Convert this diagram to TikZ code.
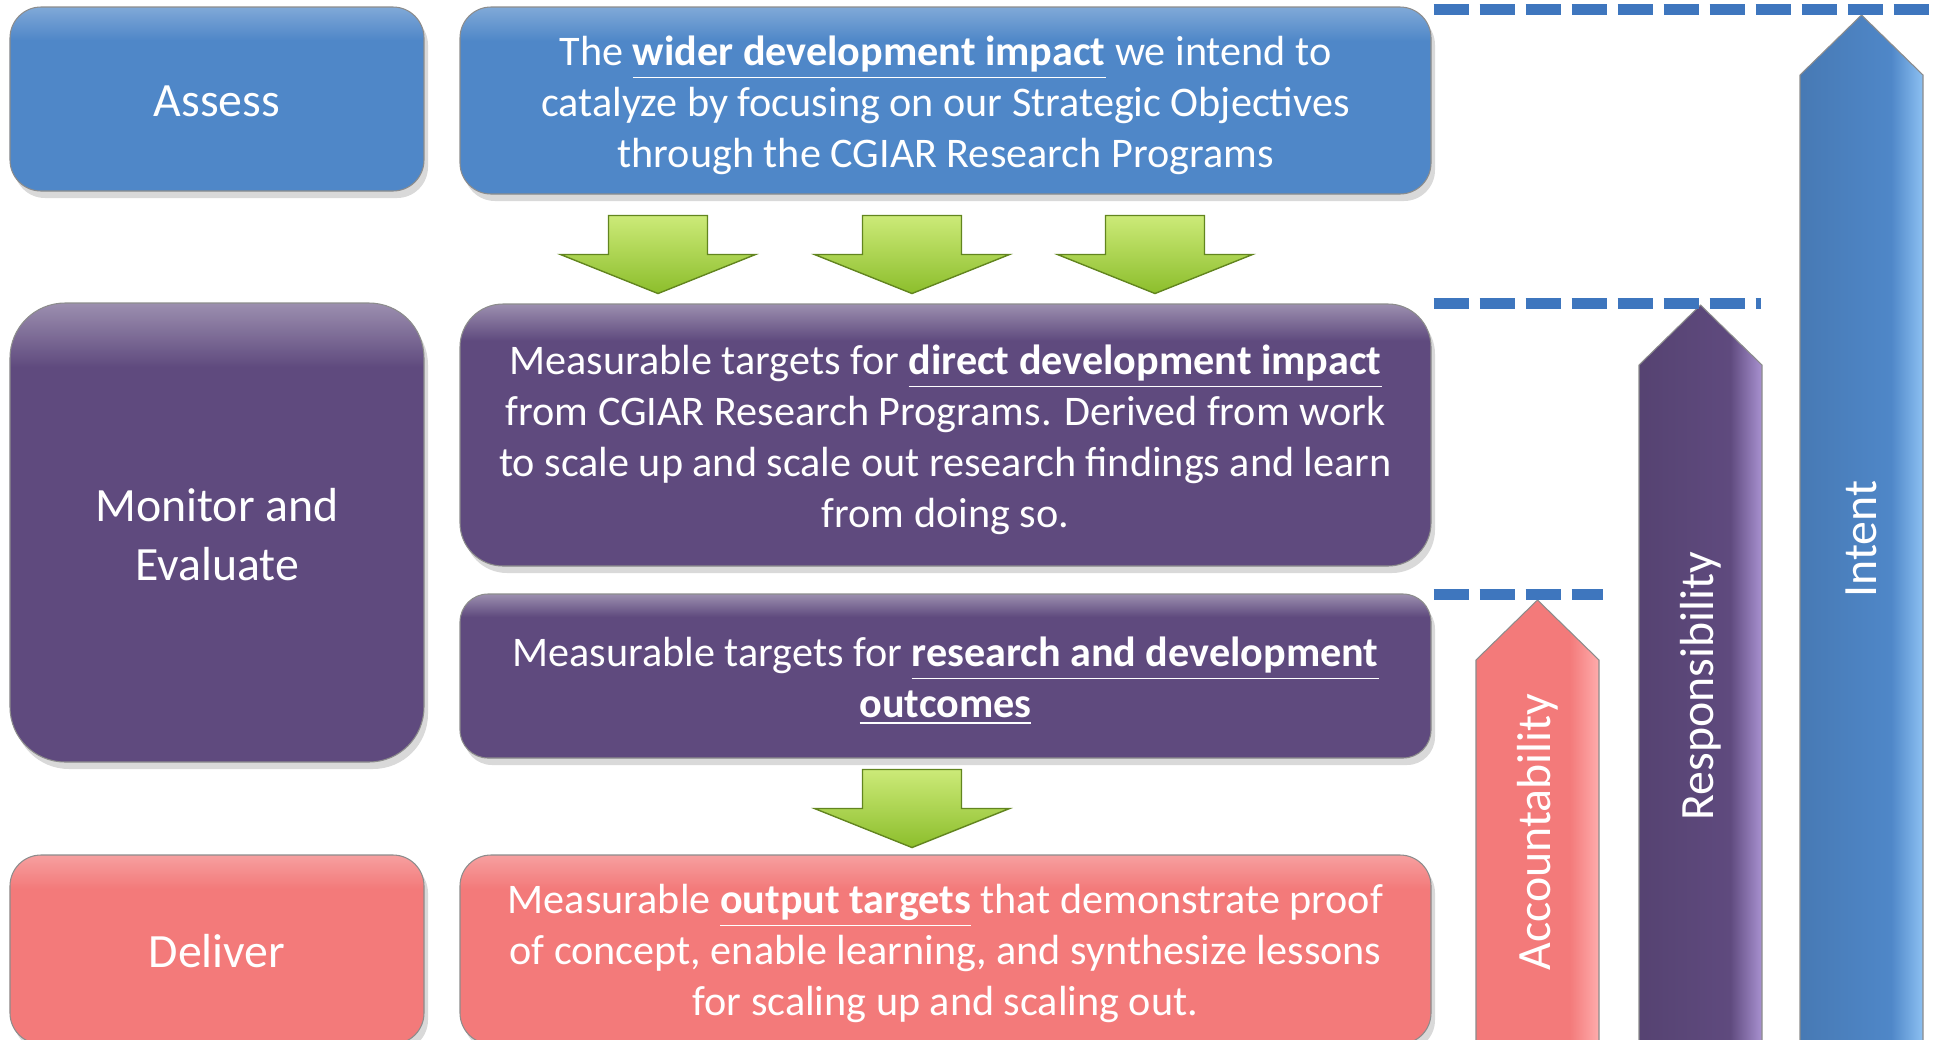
\documentclass[tikz,border=0pt]{standalone}
\usepackage{fontspec}
\setmainfont{Carlito}
\usetikzlibrary{calc, shadows}
\definecolor{assessblue}{RGB}{79,135,200}
\definecolor{monitorpurple}{RGB}{95,74,126}
\definecolor{deliverpink}{RGB}{243,122,122}
\definecolor{leaflight}{RGB}{204,234,120}
\definecolor{leafdark}{RGB}{140,190,44}
\definecolor{guideblue}{RGB}{62,118,190}
\definecolor{intentlight}{RGB}{140,192,242}
\definecolor{resplight}{RGB}{168,145,208}
\definecolor{acclight}{RGB}{255,172,172}

% bevel-like fills: mostly flat, lighter near the top / right edge
% (the path is mapped onto 25bp--75bp of the shading)
\pgfdeclareverticalshading{bluepanel}{100bp}{color(0bp)=(assessblue);
  color(66bp)=(assessblue); color(75bp)=(assessblue!72!white);
  color(100bp)=(assessblue!72!white)}
\pgfdeclareverticalshading{purplepanel}{100bp}{color(0bp)=(monitorpurple);
  color(68bp)=(monitorpurple); color(75bp)=(monitorpurple!62!white);
  color(100bp)=(monitorpurple!62!white)}
\pgfdeclareverticalshading{pinkpanel}{100bp}{color(0bp)=(deliverpink);
  color(66bp)=(deliverpink); color(75bp)=(deliverpink!72!white);
  color(100bp)=(deliverpink!72!white)}
\pgfdeclarehorizontalshading{intentshade}{100bp}{color(0bp)=(assessblue!90!black);
  color(25bp)=(assessblue!90!black); color(62bp)=(assessblue);
  color(75bp)=(intentlight); color(100bp)=(intentlight)}
\pgfdeclarehorizontalshading{respshade}{100bp}{color(0bp)=(monitorpurple!90!black);
  color(25bp)=(monitorpurple!90!black); color(62bp)=(monitorpurple);
  color(75bp)=(resplight); color(100bp)=(resplight)}
\pgfdeclarehorizontalshading{accshade}{100bp}{color(0bp)=(deliverpink);
  color(63bp)=(deliverpink); color(75bp)=(acclight); color(100bp)=(acclight)}

\newcommand{\keyterm}[1]{\underline{\textbf{#1}}}

\begin{document}
\begin{tikzpicture}[x=1mm, y=-1mm,
  panel/.style 2 args={rounded corners=#2, inner sep=0pt,
    draw=black!45, line width=0.3pt, shade, shading=#1,
    drop shadow={opacity=0.3, shadow xshift=0.4mm, shadow yshift=-0.7mm}},
  body/.style={align=center, text=white, inner sep=0pt,
    font=\fontsize{12}{14.5}\selectfont},
  stage/.style={align=center, text=white, inner sep=0pt,
    font=\fontsize{13.6}{16.6}\selectfont},
  leaf/.style={top color=leaflight, bottom color=leafdark,
    draw=leafdark!70!black, line width=0.4pt},
  guide/.style={draw=guideblue, line width=1.1mm,
    dash pattern=on 3.5mm off 1.1mm},
  pillar label/.style={rotate=90, text=white, inner sep=0pt,
    font=\fontsize{13.6}{16.6}\selectfont}]

\useasboundingbox (0,0) rectangle (193.7,103.9);

% ---- Left column: stages ----
\node[panel={bluepanel}{3.1mm}, minimum width=41.4mm,
      minimum height=18.4mm] (assess) at (21.7,9.9) {};
\node[panel={purplepanel}{5.5mm}, minimum width=41.4mm,
      minimum height=45.9mm] (monitor) at (21.7,53.25) {};
\node[panel={pinkpanel}{3.1mm}, minimum width=41.4mm,
      minimum height=18.9mm] (deliver) at (21.7,94.95) {};

\node[stage] (assesstext) at ($(assess.center)+(0,0.25)$) {Assess};
\node[stage] (monitortext) at ($(monitor.center)+(0,0.2)$)
  {Monitor and\\Evaluate};
\node[stage] (delivertext) at ($(deliver.center)+(0,0.2)$) {Deliver};

% ---- Middle column: targets ----
\node[panel={bluepanel}{3.1mm}, minimum width=97.1mm,
      minimum height=18.7mm] (wider) at (94.55,10.05) {};
\node[panel={purplepanel}{4.3mm}, minimum width=97.1mm,
      minimum height=26.2mm] (direct) at (94.55,43.5) {};
\node[panel={purplepanel}{2.8mm}, minimum width=97.1mm,
      minimum height=16.4mm] (outcomes) at (94.55,67.6) {};
\node[panel={pinkpanel}{3.1mm}, minimum width=97.1mm,
      minimum height=18.9mm] (output) at (94.55,94.95) {};

\node[body] (widertext) at ($(wider.center)+(0,0.5)$)
  {The \keyterm{wider development impact} we intend to\\
   catalyze by focusing on our Strategic Objectives\\
   through the CGIAR Research Programs};
\node[body] (directtext) at ($(direct.center)+(0,0.5)$)
  {Measurable targets for \keyterm{direct development impact}\\
   from CGIAR Research Programs. Derived from work\\
   to scale up and scale out research findings and learn\\
   from doing so.};
\node[body] (outcomestext) at ($(outcomes.center)+(0,0.5)$)
  {Measurable targets for \keyterm{research and development}\\
   \keyterm{outcomes}};
\node[body] (outputtext) at ($(output.center)+(0,0.4)$)
  {Measurable \keyterm{output targets} that demonstrate proof\\
   of concept, enable learning, and synthesize lessons\\
   for scaling up and scaling out.};

% ---- Green block arrows ----
\foreach \dx in {-28.75,-3.35,20.95}{
  \path[leaf, shift={($(wider.south)+(\dx,2.1)$)}]
    (-4.95,0) -- (4.95,0) -- (4.95,3.9) -- (9.75,3.9) -- (0,7.8)
    -- (-9.75,3.9) -- (-4.95,3.9) -- cycle;
}
\path[leaf, shift={($(outcomes.south)+(-3.35,1.1)$)}]
  (-4.95,0) -- (4.95,0) -- (4.95,3.9) -- (9.75,3.9) -- (0,7.8)
  -- (-9.75,3.9) -- (-4.95,3.9) -- cycle;

% ---- Right: rising arrows ----
\foreach \name/\xl/\tip/\fillshade/\ly/\txt in {
  accountability/147.6/60.0/accshade/83.2/Accountability,
  responsibility/163.9/30.5/respshade/68.6/Responsibility,
  intent/180.0/1.5/intentshade/53.9/Intent}{
  \path[shade, shading=\fillshade, draw=black!45, line width=0.3pt]
    (\xl,106) -- (\xl,\tip+6) -- (\xl+6.15,\tip) -- (\xl+12.3,\tip+6)
    -- (\xl+12.3,106) -- cycle;
  \node[pillar label] (\name) at (\xl+6.15,\ly) {\txt};
}

% ---- Dashed level guides ----
\draw[guide] ($(wider.north east)+(0.2,0.3)$) -- ++(50.4,0);
\draw[guide] ($(direct.north east)+(0.2,0.05)$) -- ++(32.7,0);
\draw[guide] ($(outcomes.north east)+(0.2,0.1)$) -- ++(16.9,0);

\end{tikzpicture}
\end{document}
